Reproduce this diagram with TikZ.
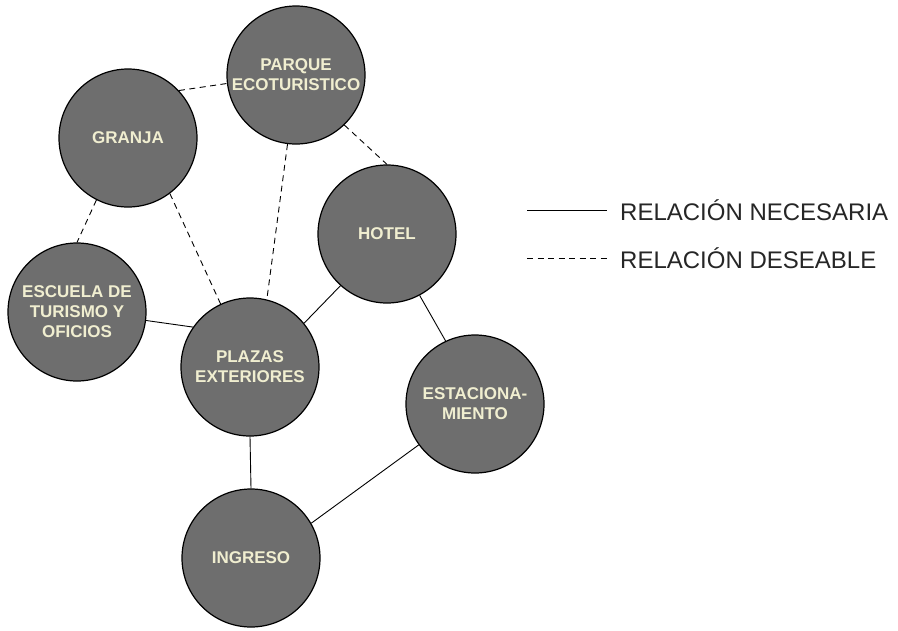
\documentclass[tikz,border=0pt]{standalone}
\usepackage{fontspec}
\setmainfont{Liberation Sans}
\begin{document}
\begin{tikzpicture}[x=1pt,y=-1pt,
  area/.style={circle, draw=black, line width=1.2pt, fill=areagray, minimum size=138pt, inner sep=0pt,
    text=areatext, font=\fontsize{17}{20}\selectfont\bfseries, align=center},
  need/.style={draw=black, line width=0.9pt},
  wish/.style={draw=black, line width=0.9pt, dash pattern=on 6pt off 4.5pt},
  legtext/.style={anchor=west, inner sep=0pt, font=\fontsize{24}{28}\selectfont, text=black!85}]
\definecolor{areagray}{RGB}{110,110,110}
\definecolor{areatext}{RGB}{240,238,208}
\useasboundingbox (0,0) rectangle (898,630);
\fill[white] (0,0) rectangle (898,630);

\node[area] (parque) at (296,75) {PARQUE\\ECOTURISTICO};
\node[area] (granja) at (128,138) {GRANJA};
\node[area] (hotel) at (387,234) {HOTEL};
\node[area] (escuela) at (77,312) {ESCUELA DE\\TURISMO Y\\OFICIOS};
\node[area] (plazas) at (250,367) {PLAZAS\\EXTERIORES};
\node[area] (estac) at (475,404) {ESTACIONA-\\MIENTO};
\node[area] (ingreso) at (251,558) {INGRESO};

\draw[wish] (granja.43) -- (parque.187);
\draw[wish] (parque.314) -- (hotel.90);
\draw[wish] (parque.263) -- (plazas.76);
\draw[wish] (granja.307) -- (plazas.115);
\draw[wish] (granja.243) -- (escuela.90);
\draw[need] (escuela.-7) -- (plazas.145);
\draw[need] (hotel.228) -- (plazas.39);
\draw[need] (hotel.298) -- (estac.115);
\draw[need] (plazas.270) -- (ingreso.90);
\draw[need] (estac.216) -- (ingreso.30);

\coordinate (l1a) at (527,210);
\coordinate (l1b) at (607,210);
\coordinate (l2a) at (527,258);
\coordinate (l2b) at (607,258);
\draw[need] (l1a) -- (l1b);
\draw[wish] (l2a) -- (l2b);
\node[legtext] (t1) at (620,210) {RELACIÓN NECESARIA};
\node[legtext] (t2) at (620,258) {RELACIÓN DESEABLE};
\end{tikzpicture}
\end{document}
